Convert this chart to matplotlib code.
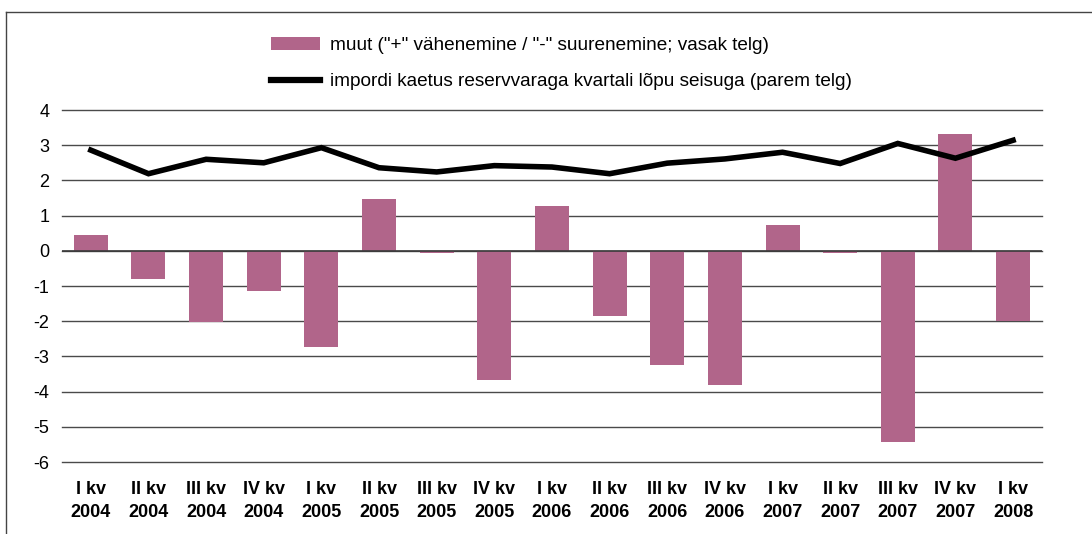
import matplotlib.pyplot as plt
import numpy as np
from matplotlib.lines import Line2D
from matplotlib.patches import Patch

plt.rcParams['font.family'] = ['Liberation Sans', 'DejaVu Sans']

# Kvartalid
kvartalid = ['I kv\n2004', 'II kv\n2004', 'III kv\n2004', 'IV kv\n2004',
             'I kv\n2005', 'II kv\n2005', 'III kv\n2005', 'IV kv\n2005',
             'I kv\n2006', 'II kv\n2006', 'III kv\n2006', 'IV kv\n2006',
             'I kv\n2007', 'II kv\n2007', 'III kv\n2007', 'IV kv\n2007',
             'I kv\n2008']

# muut ("+" vähenemine / "-" suurenemine; vasak telg)
muut = [0.46, -0.79, -2.02, -1.15, -2.73, 1.48, -0.07, -3.66,
        1.27, -1.84, -3.23, -3.8, 0.74, -0.07, -5.42, 3.32, -1.98]

# impordi kaetus reservvaraga (parem telg)
kaetus = [2.86, 2.19, 2.6, 2.5, 2.93, 2.36, 2.24, 2.42,
          2.38, 2.19, 2.49, 2.61, 2.8, 2.48, 3.05, 2.63, 3.14]

y_ticks = [4, 3, 2, 1, 0, -1, -2, -3, -4, -5, -6]

fig = plt.figure(figsize=(10.92, 5.34), dpi=100)
ax = fig.add_axes([0.0568, 0.1348, 0.8973, 0.6592])

x = np.arange(len(kvartalid))

# ruudustik
for y in y_ticks:
    ax.axhline(y, color='#4a4a4a', linewidth=1.0, zorder=1, clip_on=False)

ax.bar(x, muut, width=0.59, color='#B1658A', zorder=2)
ax.axhline(0, color='#3a3a3a', linewidth=1.2, zorder=3)
ax.plot(x, kaetus, color='black', linewidth=4.0, zorder=4,
        solid_joinstyle='miter')

ax.set_xlim(-0.5, len(kvartalid) - 0.5)
ax.set_ylim(-6, 4)
ax.set_yticks(y_ticks)
ax.set_yticklabels([str(v) for v in y_ticks], fontsize=13)
ax.set_xticks(x)
ax.set_xticklabels(kvartalid, fontsize=13, fontweight='bold', linespacing=1.45)
ax.tick_params(axis='y', length=0, pad=9)
ax.tick_params(axis='x', length=0, pad=14)
for s in ax.spines.values():
    s.set_visible(False)

# legend
handles = [Patch(facecolor='#B1658A', edgecolor='none'),
           Line2D([0], [0], color='black', linewidth=4.5)]
labels = ['muut ("+" vähenemine / "-" suurenemine; vasak telg)',
          'impordi kaetus reservvaraga kvartali lõpu seisuga (parem telg)']
fig.legend(handles, labels, loc='upper left', bbox_to_anchor=(0.248, 0.931),
           frameon=False, fontsize=13.7, handlelength=2.6, handleheight=0.65,
           handletextpad=0.5, labelspacing=1.02, borderaxespad=0,
           borderpad=0)

# raam
fig.add_artist(Line2D([0.0055, 1.0], [0.978, 0.978], color='#444444', linewidth=1.0))
fig.add_artist(Line2D([0.0055, 0.0055], [0.0, 0.978], color='#444444', linewidth=1.0))

fig.savefig('out.png', dpi=100)
